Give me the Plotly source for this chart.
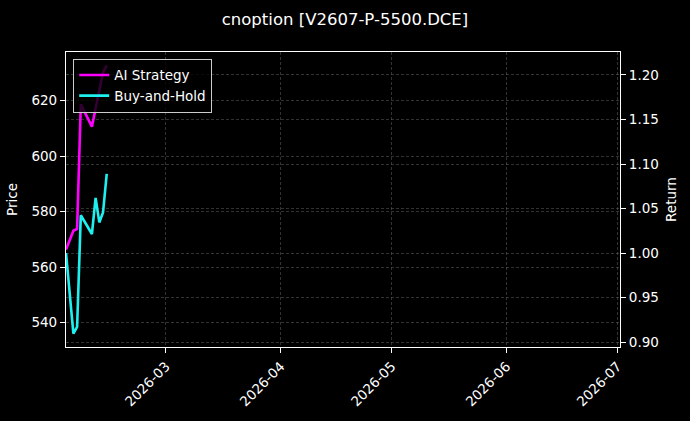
import plotly.graph_objects as go

dates = ["2026-02-02", "2026-02-04", "2026-02-05", "2026-02-06", "2026-02-09",
         "2026-02-10", "2026-02-11", "2026-02-12", "2026-02-13"]
ai_strategy = [1.004, 1.025, 1.027, 1.167, 1.142, 1.163, 1.181, 1.203, 1.2107]
buy_hold = [1.000, 0.9096, 0.917, 1.0425, 1.0214, 1.062, 1.0344, 1.0455, 1.089]

price_range = [531.2, 637.5]
return_range = [0.8945, 1.2258]
x_range = ["2026-02-02", "2026-07-01 16:00"]
title = "cnoption [V2607-P-5500.DCE]"

FONT = "DejaVu Sans"
grid = "rgba(110,110,110,0.45)"

fig = go.Figure()
# empty trace so the left (price) axis is drawn
fig.add_trace(go.Scatter(x=[], y=[], yaxis="y", showlegend=False, hoverinfo="skip"))
fig.add_trace(go.Scatter(x=dates, y=ai_strategy, name="AI Strategy", mode="lines",
                         line=dict(color="#ff00ff", width=2.6), yaxis="y2"))
fig.add_trace(go.Scatter(x=dates, y=buy_hold, name="Buy-and-Hold", mode="lines",
                         line=dict(color="#1ef0f0", width=2.6), yaxis="y2"))

axis_common = dict(showline=True, linecolor="white", linewidth=1.2,
                   ticks="outside", tickcolor="white", ticklen=5, tickwidth=1.2,
                   tickfont=dict(family=FONT, size=13.5, color="white"),
                   showgrid=True, gridcolor=grid, griddash="3px,2px", gridwidth=0.7,
                   zeroline=False)

fig.update_layout(
    width=690, height=421,
    paper_bgcolor="black", plot_bgcolor="black",
    margin=dict(l=66, r=70, t=52, b=70),
    title=dict(text=title, x=0.5, xanchor="center", y=0.955, yanchor="middle",
               font=dict(family=FONT, size=16.5, color="white")),
    xaxis=dict(type="date", range=x_range, tickformat="%Y-%m", dtick="M1",
               tickangle=-45, mirror=True, **axis_common),
    yaxis=dict(range=price_range, dtick=20,
               title=dict(text="Price", font=dict(family=FONT, size=13.5, color="white"), standoff=10),
               **axis_common),
    yaxis2=dict(range=return_range, dtick=0.05, tickformat=".2f", overlaying="y", side="right",
                title=dict(text="Return", font=dict(family=FONT, size=13.5, color="white"), standoff=8),
                **axis_common),
    legend=dict(x=0.013, y=0.977, xanchor="left", yanchor="top",
                bgcolor="rgba(0,0,0,0.8)", bordercolor="#cccccc", borderwidth=1,
                font=dict(family=FONT, size=13.5, color="white")),
    showlegend=True,
)

fig.write_html("out.html", config={"displayModeBar": False},
               post_script="document.body.style.margin='0';document.body.style.overflow='hidden';document.body.style.background='black';")
